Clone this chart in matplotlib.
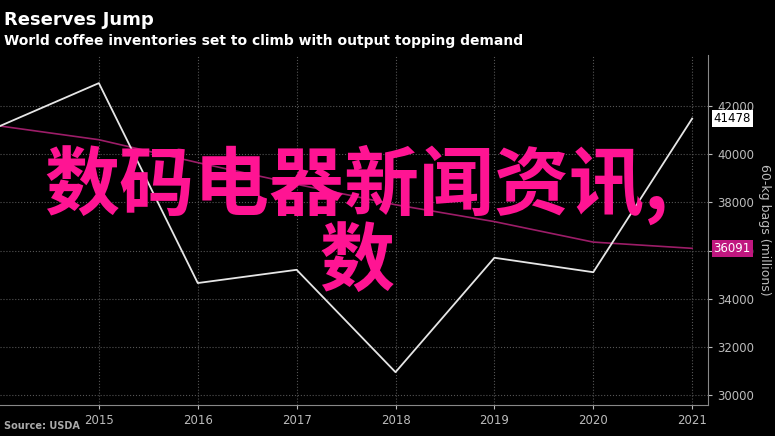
import matplotlib
matplotlib.use("Agg")
import matplotlib.pyplot as plt

years = [2014, 2015, 2016, 2017, 2018, 2019, 2020, 2021]
inventories = [41170, 42950, 34650, 35200, 30950, 35700, 35100, 41478]
demand = [41170, 40600, 39650, 38750, 37900, 37200, 36350, 36091]
yticks = [30000, 32000, 34000, 36000, 38000, 40000, 42000]
xticks = [2015, 2016, 2017, 2018, 2019, 2020, 2021]

fig = plt.figure(figsize=(7.75, 4.36), dpi=100, facecolor="black")
ax = fig.add_axes([0.0, 0.071, 0.9135, 0.803], facecolor="black")
ax.plot(years, inventories, color="#e6e6e6", lw=1.3, zorder=3)
ax.plot(years, demand, color="#9c1d68", lw=1.2, zorder=2)
ax.set_xlim(2014.0, 2021.16)
ax.set_ylim(29585, 44120)
ax.set_xticks(xticks)
ax.set_yticks(yticks)
ax.yaxis.tick_right()
ax.yaxis.set_label_position("right")
ax.tick_params(colors="#bbbbbb", labelsize=8.5, length=3)
ax.set_xticklabels([str(x) for x in xticks], color="#bbbbbb")
ax.set_yticklabels([str(y) for y in yticks], color="#bbbbbb")
ax.set_ylabel("60-kg bags (millions)", color="#bbbbbb", fontsize=9, rotation=270, labelpad=12)
ax.grid(True, color="#555555", ls=":", lw=0.8)
for s in ["top", "left"]:
    ax.spines[s].set_visible(False)
ax.spines["right"].set_color("#888888")
ax.spines["bottom"].set_color("#888888")

ax.annotate(str(inventories[-1]), xy=(1.0, inventories[-1]), xycoords=("axes fraction", "data"),
            xytext=(4, 0), textcoords="offset points", va="center", ha="left", fontsize=8.5,
            color="black", bbox=dict(boxstyle="square,pad=0.15", fc="white", ec="none"), annotation_clip=False)
ax.annotate(str(demand[-1]), xy=(1.0, demand[-1]), xycoords=("axes fraction", "data"),
            xytext=(4, 0), textcoords="offset points", va="center", ha="left", fontsize=8.5,
            color="white", bbox=dict(boxstyle="square,pad=0.15", fc="#c0177f", ec="none"), annotation_clip=False)

fig.text(0.005, 0.955, "Reserves Jump", color="white", fontsize=13, fontweight="bold", va="center")
fig.text(0.005, 0.905, "World coffee inventories set to climb with output topping demand", color="white",
         fontsize=10, fontweight="bold", va="center")
fig.text(0.005, 0.012, "Source: USDA", color="#aaaaaa", fontsize=7, fontweight="bold", va="bottom")

fig.text(0.46, 0.49, "数码电器新闻资讯,\n数", color="#ff1493", fontsize=54, fontweight="bold",
         ha="center", va="center", family=["Noto Sans CJK SC", "DejaVu Sans"], linespacing=1.0, zorder=10)

fig.savefig("out.png", dpi=100, facecolor="black")
